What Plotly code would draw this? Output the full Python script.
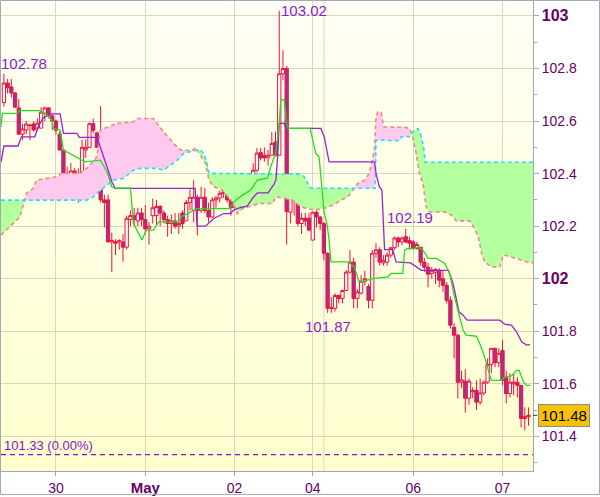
import numpy as np
import plotly.graph_objects as go

# ---------------- data ----------------
hours = list(range(-14, 128))  # trading hours, 0 = 30 Apr 00:00
opens = [102.67, 102.745, 102.73, 102.707, 102.65, 102.55, 102.566, 102.585, 102.589, 102.573,
         102.573, 102.63, 102.65, 102.62, 102.6, 102.55, 102.49, 102.33, 102.388, 102.41,
         102.40, 102.405, 102.49, 102.5, 102.59, 102.555, 102.496, 102.30, 102.30, 102.14,
         102.14, 102.14, 102.14, 102.12, 102.225, 102.24, 102.22, 102.25, 102.225, 102.19,
         102.24, 102.24, 102.275, 102.25, 102.225, 102.21, 102.22, 102.2, 102.25, 102.22,
         102.29, 102.26, 102.31, 102.26, 102.31, 102.26, 102.235, 102.3, 102.307, 102.325,
         102.33, 102.3, 102.27, 102.36, 102.36, 102.37, 102.348, 102.36, 102.413, 102.48,
         102.47, 102.46, 102.47, 102.52, 102.47, 102.78, 102.8, 102.253, 102.35, 102.335,
         102.21, 102.23, 102.23, 102.147, 102.253, 102.235, 102.21, 102.097, 101.887, 101.887,
         101.936, 101.925, 101.955, 102.025, 102.063, 101.925, 101.945, 101.99, 101.97, 101.918,
         102.097, 102.11, 102.06, 102.063, 102.09, 102.118, 102.155, 102.14, 102.16, 102.145,
         102.14, 102.115, 102.12, 102.063, 102.044, 102.02, 102.025, 102.032, 102.0, 101.975,
         101.918, 101.815, 101.785, 101.606, 101.61, 101.545, 101.57, 101.575, 101.53, 101.565,
         101.606, 101.674, 101.735, 101.68, 101.727, 101.623, 101.563, 101.6, 101.606, 101.594,
         101.468, 101.475]
highs = [102.78, 102.76, 102.76, 102.71, 102.684, 102.59, 102.6, 102.59, 102.6, 102.61,
         102.653, 102.655, 102.652, 102.625, 102.605, 102.56, 102.49, 102.425, 102.44, 102.42,
         102.42, 102.53, 102.53, 102.595, 102.61, 102.56, 102.657, 102.32, 102.32, 102.175,
         102.15, 102.15, 102.17, 102.24, 102.26, 102.27, 102.27, 102.27, 102.28, 102.215,
         102.305, 102.3, 102.28, 102.26, 102.24, 102.245, 102.25, 102.25, 102.26, 102.3,
         102.34, 102.375, 102.32, 102.35, 102.345, 102.29, 102.31, 102.315, 102.335, 102.337,
         102.337, 102.33, 102.37, 102.39, 102.39, 102.383, 102.375, 102.44, 102.497, 102.497,
         102.5, 102.49, 102.558, 102.56, 103.02, 102.87, 102.81, 102.365, 102.365, 102.36,
         102.25, 102.25, 102.25, 102.255, 102.26, 102.24, 102.215, 102.1, 101.93, 101.945,
         101.94, 101.955, 102.032, 102.109, 102.08, 101.96, 102.013, 102.03, 101.98, 102.109,
         102.135, 102.12, 102.09, 102.1, 102.12, 102.16, 102.16, 102.16, 102.19, 102.16,
         102.147, 102.14, 102.12, 102.08, 102.06, 102.044, 102.04, 102.04, 102.03, 101.987,
         101.933, 101.83, 101.79, 101.65, 101.655, 101.62, 101.587, 101.613, 101.62, 101.613,
         101.697, 101.735, 101.735, 101.735, 101.766, 101.65, 101.64, 101.64, 101.625, 101.594,
         101.51, 101.51]
lows = [102.655, 102.705, 102.69, 102.65, 102.547, 102.528, 102.55, 102.528, 102.56, 102.565,
        102.573, 102.6, 102.61, 102.566, 102.55, 102.487, 102.32, 102.325, 102.375, 102.34,
        102.29, 102.4, 102.46, 102.5, 102.555, 102.5, 102.29, 102.195, 102.14, 102.025,
        102.09, 102.11, 102.065, 102.11, 102.2, 102.2, 102.2, 102.2, 102.17, 102.13,
        102.21, 102.2, 102.2, 102.21, 102.16, 102.17, 102.19, 102.17, 102.19, 102.22,
        102.26, 102.215, 102.165, 102.25, 102.25, 102.215, 102.23, 102.27, 102.29, 102.307,
        102.29, 102.24, 102.27, 102.32, 102.35, 102.337, 102.345, 102.348, 102.405, 102.45,
        102.445, 102.43, 102.47, 102.465, 102.47, 102.755, 102.13, 102.21, 102.24, 102.2,
        102.17, 102.2, 102.18, 102.145, 102.195, 102.185, 102.07, 101.87, 101.87, 101.875,
        101.906, 101.906, 101.955, 102.02, 101.887, 101.887, 101.94, 101.975, 101.887, 101.887,
        102.08, 102.05, 102.05, 102.05, 102.08, 102.11, 102.12, 102.127, 102.135, 102.11,
        102.11, 102.11, 102.05, 102.025, 101.967, 102.0, 101.98, 101.967, 101.95, 101.906,
        101.81, 101.697, 101.545, 101.583, 101.49, 101.52, 101.545, 101.5, 101.52, 101.556,
        101.6, 101.64, 101.663, 101.663, 101.594, 101.525, 101.548, 101.556, 101.548, 101.434,
        101.423, 101.44]
closes = [102.745, 102.727, 102.707, 102.653, 102.55, 102.57, 102.589, 102.583, 102.566, 102.592,
          102.634, 102.65, 102.62, 102.6, 102.565, 102.49, 102.325, 102.388, 102.41, 102.365,
          102.36, 102.5, 102.5, 102.59, 102.565, 102.5, 102.30, 102.29, 102.14, 102.145,
          102.135, 102.145, 102.12, 102.23, 102.24, 102.225, 102.25, 102.225, 102.19, 102.2,
          102.27, 102.275, 102.25, 102.225, 102.21, 102.22, 102.2, 102.21, 102.21, 102.29,
          102.31, 102.31, 102.26, 102.31, 102.26, 102.235, 102.3, 102.307, 102.325, 102.33,
          102.3, 102.27, 102.365, 102.37, 102.37, 102.345, 102.36, 102.413, 102.478, 102.46,
          102.46, 102.47, 102.515, 102.47, 102.78, 102.8, 102.255, 102.35, 102.33, 102.21,
          102.23, 102.22, 102.185, 102.253, 102.235, 102.21, 102.097, 101.887, 101.89, 101.936,
          101.925, 101.955, 102.025, 102.063, 101.925, 101.95, 101.99, 102.0, 101.918, 102.097,
          102.11, 102.063, 102.07, 102.09, 102.118, 102.155, 102.14, 102.155, 102.14, 102.135,
          102.115, 102.13, 102.063, 102.044, 102.017, 102.032, 102.035, 101.994, 101.975, 101.918,
          101.823, 101.785, 101.606, 101.615, 101.545, 101.61, 101.575, 101.53, 101.565, 101.606,
          101.674, 101.735, 101.68, 101.716, 101.613, 101.563, 101.606, 101.606, 101.594, 101.468,
          101.475, 101.48]

# Ichimoku lines (hour, price)
tenkan_h = [-14.8, -14.4, -10.5, -9.8, -4.3, -3.8, -3.0, -1.1, -0.7, 1.1, 2.0, 7.8, 11.9, 12.7, 13.7,
            15.0, 15.9, 20.0, 20.8, 23.1, 24.3, 26.2, 27.6, 33.0, 33.6, 37.9, 46.5, 48.3, 50.1, 52.3,
            54.1, 56.8, 57.7, 59.1, 60.0, 60.4, 61.3, 62.0, 62.4, 68.3, 69.8, 70.7, 72.1, 72.8, 73.4,
            73.9, 78.4, 80.2, 81.3, 82.0, 85.6, 89.2, 90.1, 93.2, 93.7, 94.6, 96.4, 97.4, 98.6, 100.0,
            102.2, 104.5, 105.8, 107.1, 108.3, 109.4, 110.3, 113.0, 113.9, 115.2, 116.2, 117.0, 119.7,
            120.6, 122.4, 123.8, 124.5, 125.6, 126.5, 127.4]
tenkan_v = [102.578, 102.629, 102.629, 102.64, 102.64, 102.63, 102.63, 102.604, 102.572, 102.566, 102.49,
            102.445, 102.451, 102.432, 102.407, 102.35, 102.345, 102.345, 102.211, 102.147, 102.185,
            102.185, 102.216, 102.216, 102.235, 102.267, 102.267, 102.299, 102.318, 102.337, 102.375,
            102.383, 102.426, 102.48, 102.591, 102.68, 102.683, 102.591, 102.572, 102.572, 102.477,
            102.464, 102.248, 102.211, 102.147, 102.064, 102.064, 102.045, 101.994, 101.988, 102.001,
            102.007, 102.02, 102.02, 102.109, 102.115, 102.115, 102.121, 102.109, 102.077, 102.077,
            102.058, 102.02, 101.931, 101.867, 101.804, 101.785, 101.781, 101.753, 101.702, 101.651,
            101.613, 101.613, 101.626, 101.63, 101.651, 101.651, 101.607, 101.594, 101.594]
kijun_h = [-14.8, -14.0, -10.2, -9.3, -5.7, -4.8, -3.5, -1.6, 1.1, 2.0, 5.6, 6.3, 11.0, 11.9, 13.7,
           15.0, 15.9, 37.4, 37.9, 40.2, 41.1, 42.4, 45.1, 46.9, 47.8, 49.6, 51.4, 52.8, 54.1, 57.0,
           58.6, 59.1, 59.6, 60.0, 61.3, 62.0, 71.2, 72.1, 73.4, 85.6, 86.0, 86.9, 87.6, 88.3, 90.5,
           91.4, 95.3, 96.8, 98.2, 105.5, 106.7, 107.1, 108.3, 109.4, 110.5, 119.3, 120.6, 122.4,
           123.8, 125.2, 126.5, 127.4]
kijun_v = [102.443, 102.505, 102.505, 102.54, 102.54, 102.578, 102.611, 102.627, 102.627, 102.553,
           102.553, 102.538, 102.538, 102.502, 102.426, 102.369, 102.344, 102.344, 102.2, 102.2,
           102.213, 102.229, 102.248, 102.248, 102.261, 102.271, 102.276, 102.306, 102.327, 102.327,
           102.36, 102.375, 102.47, 102.591, 102.591, 102.572, 102.572, 102.54, 102.445, 102.445,
           102.401, 102.35, 102.337, 102.111, 102.111, 102.064, 102.06, 102.045, 102.032, 102.032,
           101.982, 101.956, 101.874, 101.861, 101.842, 101.842, 101.827, 101.823, 101.797, 101.759,
           101.747, 101.749]
span_a_h = [-14.8, 8.3, 10.1, 11.9, 13.7, 15.5, 18.2, 20.8, 22.7, 27.2, 28.9, 30.7, 32.6, 34.3, 37.0,
            38.8, 39.7, 40.6, 41.1, 65.8, 66.7, 67.6, 68.5, 85.8, 86.0, 92.3, 92.8, 95.0, 95.9, 97.3,
            98.2, 98.9, 99.2, 128.3]
span_a_v = [102.299, 102.299, 102.312, 102.337, 102.356, 102.375, 102.382, 102.413, 102.42, 102.42,
            102.413, 102.432, 102.451, 102.477, 102.487, 102.49, 102.477, 102.439, 102.401, 102.398,
            102.388, 102.365, 102.344, 102.344, 102.528, 102.525, 102.54, 102.54, 102.559, 102.572,
            102.54, 102.49, 102.443, 102.443]
span_b_h = [-14.8, -13.3, -11.1, -9.7, -8.4, -7.9, -6.1, -5.2, 0.2, 1.5, 6.5, 8.3, 11.0, 11.9, 16.4,
            20.8, 21.8, 26.2, 27.2, 28.9, 31.6, 33.4, 36.6, 37.5, 38.8, 40.2, 41.1, 42.4, 44.7, 47.8,
            48.7, 50.1, 51.9, 54.6, 58.2, 59.1, 63.6, 65.8, 67.6, 69.4, 72.1, 74.4, 76.6, 78.4, 80.2,
            81.1, 82.9, 84.2, 85.6, 86.0, 86.5, 87.4, 88.1, 93.7, 95.0, 95.9, 96.8, 97.7, 98.6, 99.5,
            100.4, 104.5, 106.3, 107.6, 111.2, 112.5, 113.5, 114.4, 115.2, 117.0, 119.3, 120.2, 121.6,
            123.8, 126.5, 128.3]
span_b_v = [102.166, 102.185, 102.216, 102.235, 102.299, 102.325, 102.344, 102.375, 102.388, 102.401,
            102.401, 102.42, 102.464, 102.566, 102.591, 102.597, 102.61, 102.61, 102.591, 102.559,
            102.515, 102.49, 102.487, 102.50, 102.47, 102.439, 102.375, 102.35, 102.337, 102.286,
            102.248, 102.267, 102.274, 102.286, 102.286, 102.312, 102.299, 102.274, 102.267, 102.261,
            102.267, 102.28, 102.299, 102.312, 102.344, 102.363, 102.375, 102.401, 102.49, 102.616,
            102.635, 102.632, 102.578, 102.576, 102.572, 102.54, 102.477, 102.401, 102.363, 102.274,
            102.254, 102.254, 102.242, 102.22, 102.22, 102.191, 102.159, 102.096, 102.064, 102.045,
            102.045, 102.09, 102.086, 102.077, 102.064, 102.06]

date_tick_h = [0, 24, 48, 69, 96, 120]
date_tick_text = ['30', '<b><span style="font-size:15px">May</span></b>', '02', '04', '06', '07']
extra_grid_h = [72]
price_ticks = [101.4, 101.6, 101.8, 102.0, 102.2, 102.4, 102.6, 102.8, 103.0]
price_tick_text = ['101.4', '101.6', '101.8', '<b><span style="font-size:16px">102</span></b>',
                   '102.2', '102.4', '102.6', '102.8', '<b><span style="font-size:16px">103</span></b>']
ref_level = 101.33
ref_text = '101.33 (0.00%)'

# ---------------- styling ----------------
RED = '#f0103c'
PURPLE_TXT = '#660066'
LBL = '#8a1ccc'
FONT = 'Liberation Sans, Arial, sans-serif'
X_RANGE = [-14.78, 128.2]
Y_RANGE = [101.268, 103.057]

fig = go.Figure()

# cloud fill (split where span A / span B cross)
ga = np.union1d(span_a_h, span_b_h)
A = np.interp(ga, span_a_h, span_a_v)
B = np.interp(ga, span_b_h, span_b_v)
xs, As, Bs = [ga[0]], [A[0]], [B[0]]
for i in range(1, len(ga)):
    d0, d1 = A[i - 1] - B[i - 1], A[i] - B[i]
    if d0 * d1 < 0:
        t = d0 / (d0 - d1)
        xc = ga[i - 1] + t * (ga[i] - ga[i - 1])
        yc = A[i - 1] + t * (A[i] - A[i - 1])
        xs.append(xc); As.append(yc); Bs.append(yc)
    xs.append(ga[i]); As.append(A[i]); Bs.append(B[i])
xs, As, Bs = np.array(xs), np.array(As), np.array(Bs)
lo = np.minimum(As, Bs)
for upper, col in ((As, '#b4ff9e'), (Bs, '#ffcaee')):
    fig.add_trace(go.Scatter(x=np.concatenate([xs, xs[::-1]]),
                             y=np.concatenate([upper, lo[::-1]]),
                             fill='toself', fillcolor=col, line=dict(width=0),
                             mode='lines', hoverinfo='skip', showlegend=False))

fig.add_trace(go.Scatter(x=span_b_h, y=span_b_v, mode='lines',
                         line=dict(color='#f08a80', width=1.6, dash='4px,3px'), showlegend=False))
fig.add_trace(go.Scatter(x=span_a_h, y=span_a_v, mode='lines',
                         line=dict(color='#22ddff', width=1.6, dash='4px,3px'), showlegend=False))

fig.add_trace(go.Candlestick(
    x=hours, open=opens, high=highs, low=lows, close=closes,
    increasing=dict(line=dict(color=RED, width=1), fillcolor='#ffffff'),
    decreasing=dict(line=dict(color=RED, width=1), fillcolor='#a2308c'),
    whiskerwidth=0, showlegend=False))

fig.add_trace(go.Scatter(x=kijun_h, y=kijun_v, mode='lines',
                         line=dict(color='#9a22cc', width=1.3), showlegend=False))
fig.add_trace(go.Scatter(x=tenkan_h, y=tenkan_v, mode='lines',
                         line=dict(color='#22dd22', width=1.3), showlegend=False))

# background gradient bands
shapes = []
nb = 24
top_c, bot_c = np.array([255, 255, 246]), np.array([255, 255, 206])
for k in range(nb):
    c = top_c + (bot_c - top_c) * (k + 0.5) / nb
    shapes.append(dict(type='rect', xref='paper', yref='paper', x0=0, x1=1,
                       y0=1 - (k + 1) / nb, y1=1 - k / nb, layer='below', line=dict(width=0),
                       fillcolor='rgb(%d,%d,%d)' % tuple(c)))
for g in extra_grid_h:
    shapes.append(dict(type='line', xref='x', yref='paper', x0=g, x1=g, y0=0, y1=1,
                       layer='below', line=dict(color='#d8d8c2', width=1)))
shapes.append(dict(type='line', xref='paper', yref='y', x0=0, x1=1, y0=ref_level, y1=ref_level,
                   line=dict(color='#8a10d0', width=1.3, dash='5px,4px')))
# outer border
shapes.append(dict(type='rect', xref='paper', yref='paper', x0=-0.00094, x1=1.1250,
                   y0=-0.0498, y1=1.0011, line=dict(color='#a0a8b0', width=1)))
shapes.append(dict(type='line', xref='paper', yref='y', x0=1, x1=1.008, y0=closes[-1], y1=closes[-1],
                   line=dict(color='#333333', width=1)))

annotations = [
    dict(x=hours[0], y=highs[0], text='%.2f' % highs[0], xanchor='left', yanchor='bottom',
         xshift=-5, yshift=0, showarrow=False, font=dict(size=15, color=LBL, family=FONT)),
    dict(x=60, y=max(highs), text='%.2f' % max(highs), xanchor='left', yanchor='middle',
         xshift=0, showarrow=False, font=dict(size=15, color=LBL, family=FONT)),
    dict(x=73, y=min(lows[80:100]), text='%.2f' % min(lows[80:100]), xanchor='center', yanchor='top',
         yshift=-3, showarrow=False, font=dict(size=15, color=LBL, family=FONT)),
    dict(x=94, y=highs[108], text='%.2f' % highs[108], xanchor='center', yanchor='bottom',
         xshift=4, yshift=1, showarrow=False, font=dict(size=15, color=LBL, family=FONT)),
    dict(xref='paper', x=0, y=ref_level, text=ref_text, xanchor='left', yanchor='bottom',
         xshift=1, yshift=0, showarrow=False, font=dict(size=13, color='#8a10d0', family=FONT)),
    dict(xref='paper', x=1, y=closes[-1], text='%.2f' % closes[-1], xanchor='left', yanchor='middle',
         xshift=5, showarrow=False, bgcolor='#f7c300', bordercolor='#8c8c8c', borderwidth=1,
         borderpad=2, font=dict(size=15, color='#000000', family=FONT)),
]

fig.update_layout(
    width=600, height=497, margin=dict(l=1, r=67, t=1, b=24),
    paper_bgcolor='#ffffff', plot_bgcolor='#ffffee',
    shapes=shapes, annotations=annotations, showlegend=False,
    boxgap=0.12, boxgroupgap=0,
    font=dict(family=FONT, color=PURPLE_TXT, size=14),
    xaxis=dict(range=X_RANGE, tickmode='array', tickvals=date_tick_h, ticktext=date_tick_text,
               showgrid=True, gridcolor='#d8d8c2', gridwidth=1, zeroline=False,
               ticks='outside', ticklen=4, tickcolor='#a0a8b0', showline=True, linecolor='#a0a8b0',
               tickfont=dict(size=14, color=PURPLE_TXT, family=FONT), rangeslider=dict(visible=False),
               fixedrange=True),
    yaxis=dict(range=Y_RANGE, side='right', tickmode='array', tickvals=price_ticks,
               ticktext=price_tick_text, showgrid=True, gridcolor='#d8d8c2', gridwidth=1,
               zeroline=False, ticks='outside', ticklen=5, tickcolor='#a0a8b0', showline=True,
               linecolor='#a0a8b0', tickfont=dict(size=14, color=PURPLE_TXT, family=FONT),
               minor=dict(tickmode='linear', tick0=101.3, dtick=0.2, ticks='outside', ticklen=3,
                          tickcolor='#a0a8b0', showgrid=False)),
)

fig.write_html('out.html', config={'displayModeBar': False},
               post_script="document.body.style.margin='0px';")
